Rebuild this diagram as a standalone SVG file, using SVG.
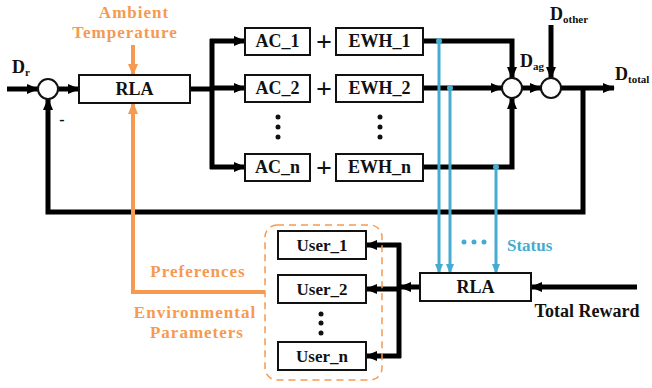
<svg xmlns="http://www.w3.org/2000/svg" width="652" height="388" viewBox="0 0 652 388">
<style>
.box{fill:#fff;stroke:#111;stroke-width:2}
.t{font-family:"Liberation Serif","Tinos","Times New Roman","Noto Serif","DejaVu Serif","FreeSerif","Nimbus Roman",Times,serif;font-weight:bold;fill:#111;text-anchor:middle}
.s{text-anchor:start}
.bt{font-size:18px}
.ln{fill:none;stroke:#000;stroke-width:5}
.bl{fill:none;stroke:#45ACD0;stroke-width:3}
.or{fill:none;stroke:#F59A50;stroke-width:4}
.ot{fill:#F59A50;letter-spacing:1px}
.bt2{fill:#45ACD0}
.circ{fill:#fff;stroke:#111;stroke-width:2}
</style>
<defs>
<marker id="ak" markerUnits="userSpaceOnUse" markerWidth="12" markerHeight="12" refX="11" refY="6" orient="auto"><path d="M0,1 L12,6 L0,11 Z" fill="#000"/></marker>
<marker id="ab" markerUnits="userSpaceOnUse" markerWidth="10" markerHeight="10" refX="9" refY="5" orient="auto"><path d="M0,1 L10,5 L0,9 Z" fill="#45ACD0"/></marker>
<marker id="ao" markerUnits="userSpaceOnUse" markerWidth="12" markerHeight="12" refX="11" refY="6" orient="auto"><path d="M0,1 L12,6 L0,11 Z" fill="#F59A50"/></marker>
</defs>
<g id="connectors">
<line class="ln" x1="7" y1="89" x2="38" y2="89" marker-end="url(#ak)"/>
<line class="ln" x1="58" y1="89" x2="79" y2="89" marker-end="url(#ak)"/>
<line class="ln" x1="190" y1="89" x2="212" y2="89"/>
<line class="ln" x1="212" y1="39" x2="212" y2="169"/>
<line class="ln" x1="210" y1="41" x2="245" y2="41" marker-end="url(#ak)"/>
<line class="ln" x1="212" y1="88" x2="245" y2="88" marker-end="url(#ak)"/>
<line class="ln" x1="210" y1="167" x2="245" y2="167" marker-end="url(#ak)"/>
<polyline class="ln" points="423,41 512,41 512,78" marker-end="url(#ak)"/>
<line class="ln" x1="423" y1="88" x2="502" y2="88" marker-end="url(#ak)"/>
<polyline class="ln" points="423,167 512,167 512,98" marker-end="url(#ak)"/>
<line class="ln" x1="522" y1="88" x2="541" y2="88" marker-end="url(#ak)"/>
<line class="ln" x1="551" y1="25" x2="551" y2="78" marker-end="url(#ak)"/>
<line class="ln" x1="561" y1="88" x2="614" y2="88" marker-end="url(#ak)"/>
<polyline class="ln" points="583,88 583,212 48,212 48,99" marker-end="url(#ak)"/>
<line class="ln" x1="637" y1="287" x2="531" y2="287" marker-end="url(#ak)"/>
<line class="ln" x1="420" y1="287" x2="400" y2="287" marker-end="url(#ak)"/>
<line class="ln" x1="399" y1="243" x2="399" y2="358"/>
<line class="ln" x1="401" y1="245" x2="366" y2="245" marker-end="url(#ak)"/>
<line class="ln" x1="399" y1="289" x2="366" y2="289" marker-end="url(#ak)"/>
<line class="ln" x1="401" y1="356" x2="366" y2="356" marker-end="url(#ak)"/>
<line class="bl" x1="439" y1="41" x2="439" y2="273" marker-end="url(#ab)"/>
<line class="bl" x1="450" y1="88" x2="450" y2="273" marker-end="url(#ab)"/>
<line class="bl" x1="496" y1="167" x2="496" y2="273" marker-end="url(#ab)"/>
<circle cx="439" cy="41" r="3" fill="#45ACD0"/>
<circle cx="450" cy="88" r="3" fill="#45ACD0"/>
<circle cx="496" cy="167" r="3" fill="#45ACD0"/>
<line class="or" x1="133" y1="45" x2="133" y2="75" marker-end="url(#ao)"/>
<polyline class="or" points="265,292 133,292 133,103" marker-end="url(#ao)"/>
</g>
<g id="sum1"><circle class="circ" cx="48" cy="89" r="10"/></g>
<g id="sumA"><circle class="circ" cx="512" cy="88" r="10"/></g>
<g id="sumB"><circle class="circ" cx="551" cy="88" r="10"/></g>
<g id="rla1"><rect class="box" x="79" y="75" width="111" height="28"/><text class="t bt" x="134.5" y="95">RLA</text></g>
<g id="ac1"><rect class="box" x="245" y="28" width="65" height="27"/><text class="t bt" x="277.5" y="47">AC_1</text></g>
<g id="ac2"><rect class="box" x="245" y="75" width="65" height="27"/><text class="t bt" x="277.5" y="94">AC_2</text></g>
<g id="acn"><rect class="box" x="245" y="154" width="65" height="27"/><text class="t bt" x="277.5" y="173">AC_n</text></g>
<g id="ewh1"><rect class="box" x="336" y="28" width="87" height="27"/><text class="t bt" x="379.5" y="47">EWH_1</text></g>
<g id="ewh2"><rect class="box" x="336" y="75" width="87" height="27"/><text class="t bt" x="379.5" y="94">EWH_2</text></g>
<g id="ewhn"><rect class="box" x="336" y="154" width="87" height="27"/><text class="t bt" x="379.5" y="173">EWH_n</text></g>
<g id="plus"><text class="t" x="324" y="51" font-size="28">+</text><text class="t" x="324" y="98" font-size="28">+</text><text class="t" x="324" y="177" font-size="28">+</text></g>
<g id="dots" fill="#111">
<circle cx="278" cy="117" r="2.5"/><circle cx="278" cy="127" r="2.5"/><circle cx="278" cy="137" r="2.5"/>
<circle cx="380" cy="117" r="2.5"/><circle cx="380" cy="127" r="2.5"/><circle cx="380" cy="137" r="2.5"/>
<circle cx="321" cy="314" r="2.5"/><circle cx="321" cy="323" r="2.5"/><circle cx="321" cy="333" r="2.5"/>
</g>
<g id="rla2"><rect class="box" x="420" y="273" width="111" height="28"/><text class="t bt" x="475.5" y="293">RLA</text></g>
<g id="users">
<rect x="265" y="225" width="117" height="155" rx="12" fill="none" stroke="#F59A50" stroke-width="1.5" stroke-dasharray="7,5"/>
<g id="user1"><rect class="box" x="278" y="231" width="88" height="28"/><text class="t" font-size="17" x="322" y="251">User_1</text></g>
<g id="user2"><rect class="box" x="278" y="275" width="88" height="28"/><text class="t" font-size="17" x="322" y="295">User_2</text></g>
<g id="usern"><rect class="box" x="278" y="342" width="88" height="28"/><text class="t" font-size="17" x="322" y="362">User_n</text></g>
</g>
<g id="labels">
<text class="t s" font-size="18" x="12" y="73">D<tspan font-size="11" dy="3">r</tspan></text>
<text class="t" font-size="16" x="62" y="125">-</text>
<text class="t s" font-size="18" x="520" y="67">D<tspan font-size="11" dy="3">ag</tspan></text>
<text class="t s" font-size="18" x="550" y="20">D<tspan font-size="11" dy="3">other</tspan></text>
<text class="t s" font-size="18" x="615" y="80">D<tspan font-size="11" dy="3">total</tspan></text>
<text class="t ot" font-size="17" x="134" y="18">Ambient</text>
<text class="t ot" font-size="17" x="125" y="38">Temperature</text>
<text class="t ot" font-size="17" x="198" y="277">Preferences</text>
<text class="t ot" font-size="17" x="195" y="318">Environmental</text>
<text class="t ot" font-size="17" x="197" y="338">Parameters</text>
<text class="t s bt2" font-size="17" x="507" y="251">Status</text>
<g fill="#45ACD0"><circle cx="464" cy="242" r="2.5"/><circle cx="474" cy="242" r="2.5"/><circle cx="484" cy="242" r="2.5"/></g>
<text class="t" font-size="18" x="587" y="317">Total Reward</text>
</g>
</svg>
